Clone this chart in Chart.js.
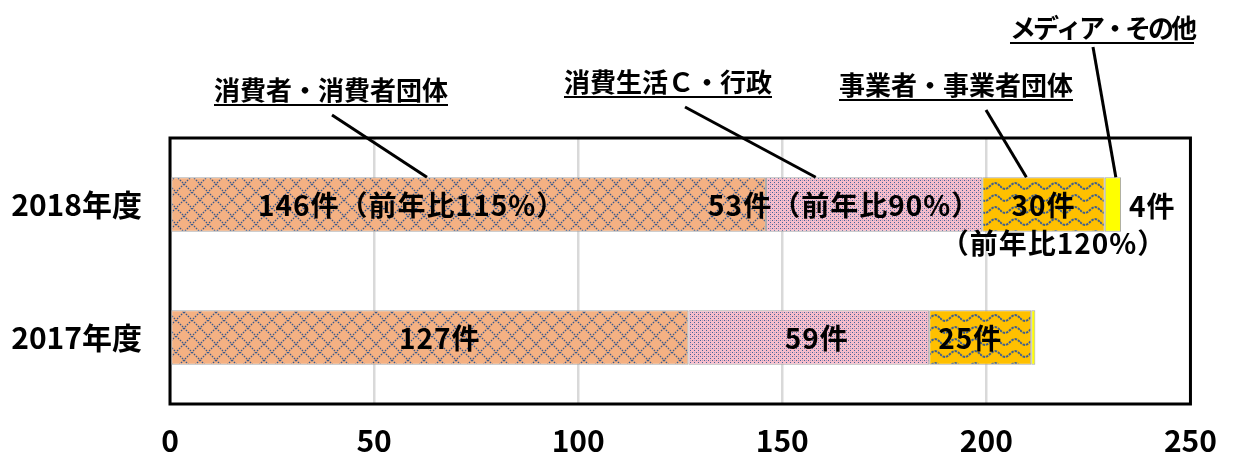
<!DOCTYPE html>
<html lang="ja">
<head>
<meta charset="utf-8">
<title>相談件数</title>
<script src="https://cdn.jsdelivr.net/npm/chart.js@4/dist/chart.umd.min.js"></script>
<style>
  html, body { margin: 0; padding: 0; background: #fff; }
  #chart { display: block; }
</style>
</head>
<body>
<canvas id="chart" width="1236" height="454"></canvas>
<script>
// data
const categories = ['2018年度', '2017年度'];
const seriesNames = ['消費者・消費者団体', '消費生活Ｃ・行政', '事業者・事業者団体', 'メディア・その他'];
const consumers = [146, 127];
const localGov = [53, 59];
const business = [30, 25];
const media = [4, 1];
const xTicks = [0, 50, 100, 150, 200, 250];

// text written on / next to each bar segment (one entry per category)
const consumerLabels = [['146件（前年比115%）'], ['127件']];
const localGovLabels = [['53件（前年比90%）'], ['59件']];
const businessLabels = [['30件', '（前年比120%）'], ['25件']];
const mediaLabels = [['4件'], []];

const FONT = '"Noto Sans CJK JP", "Noto Sans", sans-serif';
Chart.defaults.font.family = FONT;
Chart.defaults.color = '#000';

const canvas = document.getElementById('chart');
const ctx = canvas.getContext('2d');

// Excel-like fill patterns
const makePattern = (w, h, bg, draw) => {
  const c = document.createElement('canvas');
  c.width = w;
  c.height = h;
  const g = c.getContext('2d');
  g.fillStyle = bg;
  g.fillRect(0, 0, w, h);
  draw(g, w, h);
  return ctx.createPattern(c, 'repeat');
};

const latticeFill = makePattern(16, 16, '#F4B183', (g, w, h) => {
  g.strokeStyle = '#3A5A8C';
  g.lineWidth = 1.3;
  g.setLineDash([1.6, 1.2]);
  g.beginPath();
  g.moveTo(0, 0); g.lineTo(w, h);
  g.moveTo(w, 0); g.lineTo(0, h);
  g.stroke();
});

const dotFill = makePattern(4, 4, '#F7BDCB', (g) => {
  g.fillStyle = '#44649A';
  g.fillRect(0, 0, 1, 1);
  g.fillRect(2, 2, 1, 1);
  g.fillStyle = 'rgba(68,100,154,0.35)';
  g.fillRect(2, 0, 1, 1);
});

const waveFill = makePattern(20, 12, '#FFC000', (g, w, h) => {
  g.strokeStyle = '#3F5F8F';
  g.lineWidth = 2;
  g.setLineDash([2.5, 1]);
  g.beginPath();
  for (let x = 0; x <= w; x++) {
    const y = 6 + 3 * Math.sin((x / w) * Math.PI * 2);
    if (x === 0) g.moveTo(x, y); else g.lineTo(x, y);
  }
  g.stroke();
});

// where each segment's text goes: centred (with a nudge) or just right of the bar
const labelLayout = [
  { mode: 'center', dx: [-57, 10] },
  { mode: 'center', dx: [-30, 8] },
  { mode: 'center', dx: [0, -10], lineGap: 38, secondDx: 10 },
  { mode: 'right' },
];

// callout titles above the plot with leader lines down to the 2018 bar
const callouts = [
  { x: 331, y: 90, from: [332, 115], at: 0.43, spacing: '0px' },
  { x: 668, y: 82, from: [685, 107], at: 0.23, spacing: '0px' },
  { x: 956, y: 85, from: [986, 110], at: 0.36, spacing: '0px' },
  { x: 1102, y: 28, from: [1093, 47], at: 0.68, spacing: '-3px' },
];

const plotBox = {
  id: 'plotBox',
  beforeDatasetsDraw(chart) {
    const { ctx, chartArea: a } = chart;
    ctx.save();
    ctx.strokeStyle = '#000';
    ctx.lineWidth = 3;
    ctx.strokeRect(a.left, a.top, a.right - a.left, a.bottom - a.top);
    ctx.restore();
  },
};

const segmentLabels = {
  id: 'segmentLabels',
  afterDatasetsDraw(chart) {
    const c = chart.ctx;
    c.save();
    c.fillStyle = '#000';
    c.font = 'bold 28px ' + FONT;
    c.letterSpacing = '1px';
    c.textBaseline = 'middle';
    chart.data.datasets.forEach((ds, di) => {
      const layout = labelLayout[di];
      chart.getDatasetMeta(di).data.forEach((bar, i) => {
        const lines = ds.segmentText[i] || [];
        lines.forEach((txt, li) => {
          if (layout.mode === 'right') {
            c.textAlign = 'left';
            c.fillText(txt, bar.x + 8, bar.y + 2);
          } else {
            c.textAlign = 'center';
            let x = (bar.base + bar.x) / 2 + layout.dx[i];
            let y = bar.y + 1;
            if (li > 0) {
              y += layout.lineGap * li;
              x += layout.secondDx;
            }
            c.fillText(txt, x, y);
          }
        });
      });
    });
    c.restore();
  },
  afterDraw(chart) {
    const c = chart.ctx;
    c.save();
    c.font = 'bold 26px ' + FONT;
    c.textAlign = 'center';
    c.textBaseline = 'middle';
    c.fillStyle = '#000';
    c.strokeStyle = '#000';
    callouts.forEach((co, di) => {
      const bar = chart.getDatasetMeta(di).data[0];
      const tx = bar.base + (bar.x - bar.base) * co.at;
      const ty = bar.y - bar.height / 2;
      c.lineWidth = 3;
      c.beginPath();
      c.moveTo(co.from[0], co.from[1]);
      c.lineTo(tx, ty);
      c.stroke();

      const name = seriesNames[di];
      c.letterSpacing = co.spacing;
      const w = c.measureText(name).width;
      c.fillText(name, co.x, co.y);
      c.lineWidth = 2;
      c.beginPath();
      c.moveTo(co.x - w / 2, co.y + 15);
      c.lineTo(co.x + w / 2, co.y + 15);
      c.stroke();
    });
    c.restore();
  },
};

const barStyle = {
  borderColor: '#A6A6A6',
  borderWidth: 1,
  borderSkipped: false,
  categoryPercentage: 1,
  barPercentage: 0.41,
};

new Chart(ctx, {
  type: 'bar',
  data: {
    labels: categories,
    datasets: [
      { label: seriesNames[0], data: consumers, backgroundColor: latticeFill, segmentText: consumerLabels, ...barStyle },
      { label: seriesNames[1], data: localGov, backgroundColor: dotFill, segmentText: localGovLabels, ...barStyle },
      { label: seriesNames[2], data: business, backgroundColor: waveFill, segmentText: businessLabels, ...barStyle },
      { label: seriesNames[3], data: media, backgroundColor: '#FFFF00', segmentText: mediaLabels, ...barStyle },
    ],
  },
  options: {
    indexAxis: 'y',
    responsive: false,
    animation: false,
    devicePixelRatio: 1,
    layout: { padding: { top: 138, right: 41, left: 0, bottom: 0 } },
    plugins: {
      legend: { display: false },
      tooltip: { enabled: false },
    },
    scales: {
      x: {
        stacked: true,
        min: xTicks[0],
        max: xTicks[xTicks.length - 1],
        afterBuildTicks: (scale) => { scale.ticks = xTicks.map(v => ({ value: v })); },
        grid: { color: '#D9D9D9', lineWidth: 2.5, drawTicks: false },
        border: { display: false },
        ticks: { font: { size: 30, weight: 'bold' }, color: '#000', padding: 19, maxRotation: 0 },
        afterFit: (scale) => { scale.height = 50; },
      },
      y: {
        stacked: true,
        grid: { display: false, drawTicks: false },
        border: { display: false },
        ticks: { font: { size: 30, weight: 'bold' }, color: '#000', padding: 28 },
        afterFit: (scale) => { scale.width = 170; },
      },
    },
  },
  plugins: [plotBox, segmentLabels],
});
</script>
</body>
</html>
